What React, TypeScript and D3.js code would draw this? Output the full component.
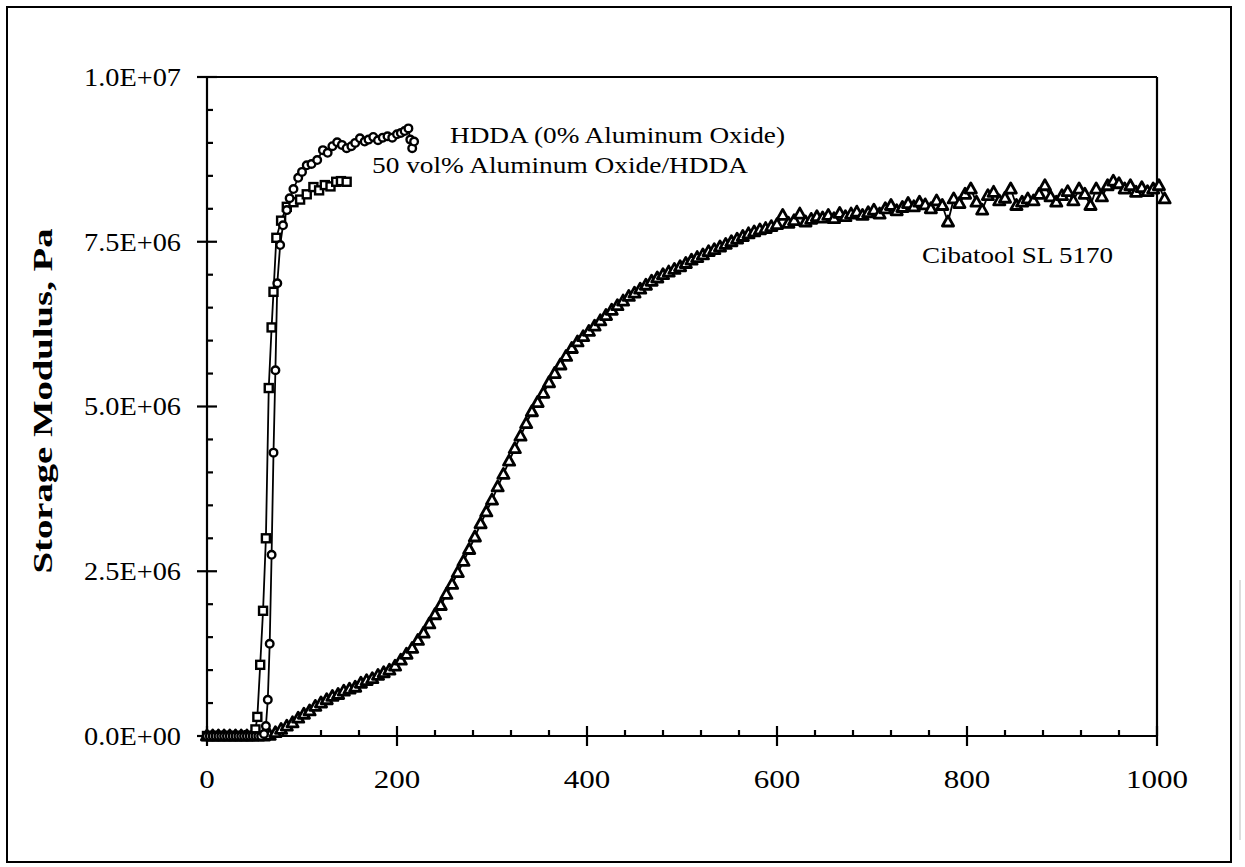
import React from "react";
import * as d3 from "d3";

const W = 1245;
const H = 867;

// axis ticks
const yMajor = [0, 2.5e6, 5e6, 7.5e6, 1e7];
const yTickLabels = ["0.0E+00", "2.5E+06", "5.0E+06", "7.5E+06", "1.0E+07"];
const xMajor = [0, 200, 400, 600, 800, 1000];
const xTickLabels = ["0", "200", "400", "600", "800", "1000"];

// HDDA (0% Aluminum Oxide) - circles, modulus in 1E+06 Pa
const hddaTime = [0, 3, 6, 9, 12, 15, 18, 21, 24, 27, 30, 33, 36, 39, 42, 45, 48, 51, 54, 57, 60, 62, 64, 66, 68, 70, 72, 74, 77, 80, 84, 87, 91, 96, 100, 105, 110, 116, 122, 127, 132, 137, 142, 147, 152, 156, 161, 166, 170, 175, 180, 185, 190, 195, 200, 204, 208, 212, 214, 216, 218];
const hddaModulus = [0, 0, 0, 0, 0, 0, 0, 0, 0, 0, 0, 0, 0, 0, 0, 0, 0, 0, 0, 0, 0.03, 0.15, 0.55, 1.4, 2.75, 4.3, 5.55, 6.87, 7.45, 7.75, 7.98, 8.16, 8.3, 8.47, 8.56, 8.66, 8.68, 8.74, 8.89, 8.85, 8.95, 9.01, 8.97, 8.92, 8.95, 9.0, 9.07, 9.02, 9.05, 9.09, 9.04, 9.08, 9.1, 9.08, 9.13, 9.15, 9.18, 9.22, 9.05, 8.92, 9.02];

// 50 vol% Aluminum Oxide/HDDA - squares
const aluTime = [0, 3, 6, 9, 12, 15, 18, 21, 24, 27, 30, 33, 36, 39, 42, 45, 48, 51, 53, 56, 59, 62, 65, 68, 70, 73, 78, 84, 91, 98, 105, 112, 118, 124, 130, 136, 141, 147];
const aluModulus = [0, 0, 0, 0, 0, 0, 0, 0, 0, 0, 0, 0, 0, 0, 0, 0, 0, 0.1, 0.29, 1.08, 1.9, 3.0, 5.28, 6.2, 6.74, 7.56, 7.82, 8.03, 8.1, 8.14, 8.22, 8.33, 8.28, 8.36, 8.34, 8.41, 8.42, 8.41];

// Cibatool SL 5170 - triangles
const cibaTime = [0, 6, 12, 18, 24, 30, 36, 42, 48, 54, 60, 66, 72, 78, 84, 90, 96, 102, 108, 114, 120, 126, 132, 138, 144, 150, 156, 162, 168, 174, 180, 186, 192, 198, 204, 210, 216, 222, 228, 234, 240, 246, 252, 258, 264, 270, 276, 282, 288, 294, 300, 306, 312, 318, 324, 330, 336, 342, 348, 354, 360, 366, 372, 378, 384, 390, 396, 402, 408, 414, 420, 426, 432, 438, 444, 450, 456, 462, 468, 474, 480, 486, 492, 498, 504, 510, 516, 522, 528, 534, 540, 546, 552, 558, 564, 570, 576, 582, 588, 594, 600, 606, 612, 618, 624, 630, 636, 642, 648, 654, 660, 666, 672, 678, 684, 690, 696, 702, 708, 714, 720, 726, 732, 738, 744, 750, 756, 762, 768, 774, 780, 786, 792, 798, 804, 810, 816, 822, 828, 834, 840, 846, 852, 858, 864, 870, 876, 882, 888, 894, 900, 906, 912, 918, 924, 930, 936, 942, 948, 954, 960, 966, 972, 978, 984, 990, 996, 1002, 1008];
const cibaModulus = [0, 0, 0, 0, 0, 0, 0, 0, 0, 0, 0, 0.01, 0.05, 0.1, 0.15, 0.2, 0.27, 0.33, 0.38, 0.45, 0.5, 0.55, 0.6, 0.63, 0.68, 0.71, 0.74, 0.8, 0.84, 0.87, 0.92, 0.96, 1.0, 1.06, 1.15, 1.24, 1.33, 1.45, 1.56, 1.7, 1.84, 1.98, 2.15, 2.3, 2.48, 2.65, 2.83, 3.02, 3.22, 3.4, 3.58, 3.78, 3.97, 4.17, 4.36, 4.55, 4.74, 4.92, 5.06, 5.2, 5.36, 5.5, 5.63, 5.76, 5.88, 5.98, 6.06, 6.14, 6.22, 6.3, 6.38, 6.46, 6.53, 6.6, 6.67, 6.72, 6.78, 6.84, 6.9, 6.95, 7.0, 7.04, 7.08, 7.12, 7.17, 7.22, 7.26, 7.3, 7.35, 7.38, 7.42, 7.46, 7.5, 7.54, 7.58, 7.62, 7.65, 7.68, 7.7, 7.73, 7.76, 7.9, 7.78, 7.82, 7.92, 7.8, 7.84, 7.88, 7.86, 7.9, 7.85, 7.93, 7.88, 7.92, 7.95, 7.9, 7.94, 7.98, 7.92, 8.0, 8.05, 7.97, 8.02, 8.08, 8.03, 8.1, 8.06, 8.0, 8.12, 8.05, 7.8, 8.15, 8.08, 8.22, 8.3, 8.1, 7.98, 8.2, 8.25, 8.12, 8.16, 8.3, 8.05, 8.1, 8.15, 8.12, 8.22, 8.35, 8.18, 8.1, 8.2, 8.26, 8.12, 8.3, 8.22, 8.05, 8.3, 8.18, 8.35, 8.42, 8.38, 8.3, 8.35, 8.25, 8.32, 8.26, 8.3, 8.35, 8.15];

const FONT = "'Liberation Serif', 'Times New Roman', serif";

const zip = (t: number[], v: number[]) => t.map((d, i) => [d, v[i] * 1e6] as [number, number]);

export default function App() {
  const x = d3.scaleLinear().domain([0, 1000]).range([207, 1157]);
  const y = d3.scaleLinear().domain([0, 1e7]).range([736, 77]);

  const line = d3.line<[number, number]>().x(d => x(d[0])).y(d => y(d[1]));

  const hdda = zip(hddaTime, hddaModulus);
  const alu = zip(aluTime, aluModulus);
  const ciba = zip(cibaTime, cibaModulus);

  const yMinor = d3.range(0, 1e7, 5e5).filter(v => v % 2.5e6 !== 0);
  const xMinor = d3.range(0, 1000, 40).filter(v => v % 200 !== 0);

  // open triangle marker
  const tri = "M0,-6L5.6,4L-5.6,4Z";

  return (
    <svg width={W} height={H} style={{ position: "absolute", left: 0, top: 0, background: "#fff" }}>
      <rect x={0} y={0} width={W} height={H} fill="#fff" />
      {/* outer frame */}
      <rect x={7} y={7} width={1224} height={855} fill="none" stroke="#000" strokeWidth={2} />
      <line x1={1240} x2={1240} y1={580} y2={840} stroke="#bbb" strokeWidth={1} />

      {/* axes */}
      <g stroke="#000" strokeWidth={2.2}>
        <line x1={x(0)} x2={x(0)} y1={y(1e7)} y2={y(0)} />
        <line x1={x(0)} x2={x(1000)} y1={y(0)} y2={y(0)} />
        <line x1={x(0) - 7} x2={x(1000)} y1={y(1e7)} y2={y(1e7)} />
        <line x1={x(1000)} x2={x(1000)} y1={y(1e7)} y2={y(0)} />
        {yMajor.map(v => <line key={"ym" + v} x1={x(0) - 10} x2={x(0) + 10} y1={y(v)} y2={y(v)} />)}
        {yMinor.map(v => <line key={"yn" + v} x1={x(0)} x2={x(0) + 6} y1={y(v)} y2={y(v)} />)}
        {xMajor.map(v => <line key={"xm" + v} x1={x(v)} x2={x(v)} y1={y(0) - 10} y2={y(0) + 10} />)}
        {xMinor.map(v => <line key={"xn" + v} x1={x(v)} x2={x(v)} y1={y(0) - 6} y2={y(0)} />)}
      </g>

      <g fontFamily={FONT} fontSize={25} fill="#000">
        {yMajor.map((v, i) => (
          <text key={"yl" + v} x={181} y={y(v)} dy="0.35em" textAnchor="end" textLength={97} lengthAdjust="spacingAndGlyphs">{yTickLabels[i]}</text>
        ))}
        {xMajor.map((v, i) => (
          <text key={"xl" + v} x={x(v)} y={788} textAnchor="middle" textLength={xTickLabels[i].length * 15.5} lengthAdjust="spacingAndGlyphs">{xTickLabels[i]}</text>
        ))}
      </g>

      <text transform="translate(52,401) rotate(-90)" textAnchor="middle" fontFamily={FONT} fontWeight="bold" fontSize={28} textLength={345} lengthAdjust="spacingAndGlyphs">Storage  Modulus,  Pa</text>

      {/* series lines */}
      <g fill="none" stroke="#000" strokeWidth={1.8}>
        <path d={line(ciba) || ""} />
        <path d={line(alu) || ""} />
        <path d={line(hdda) || ""} />
      </g>

      {/* markers */}
      <g fill="#fff" stroke="#000" strokeWidth={2.8} strokeLinejoin="round">
        {ciba.map((d, i) => <path key={"c" + i} d={tri} transform={`translate(${x(d[0])},${y(d[1])})`} />)}
      </g>
      <g fill="#fff" stroke="#000" strokeWidth={2.4}>
        {alu.map((d, i) => <rect key={"s" + i} x={x(d[0]) - 4} y={y(d[1]) - 4} width={8} height={8} />)}
        {hdda.map((d, i) => <circle key={"h" + i} cx={x(d[0])} cy={y(d[1])} r={3.8} />)}
      </g>

      <g fontFamily={FONT} fontSize={24} fill="#000">
        <text x={450} y={143} textLength={335} lengthAdjust="spacingAndGlyphs">HDDA (0% Aluminum Oxide)</text>
        <text x={372} y={173} textLength={376} lengthAdjust="spacingAndGlyphs">50 vol% Aluminum Oxide/HDDA</text>
        <text x={922} y={263} textLength={191} lengthAdjust="spacingAndGlyphs">Cibatool SL 5170</text>
      </g>
    </svg>
  );
}
